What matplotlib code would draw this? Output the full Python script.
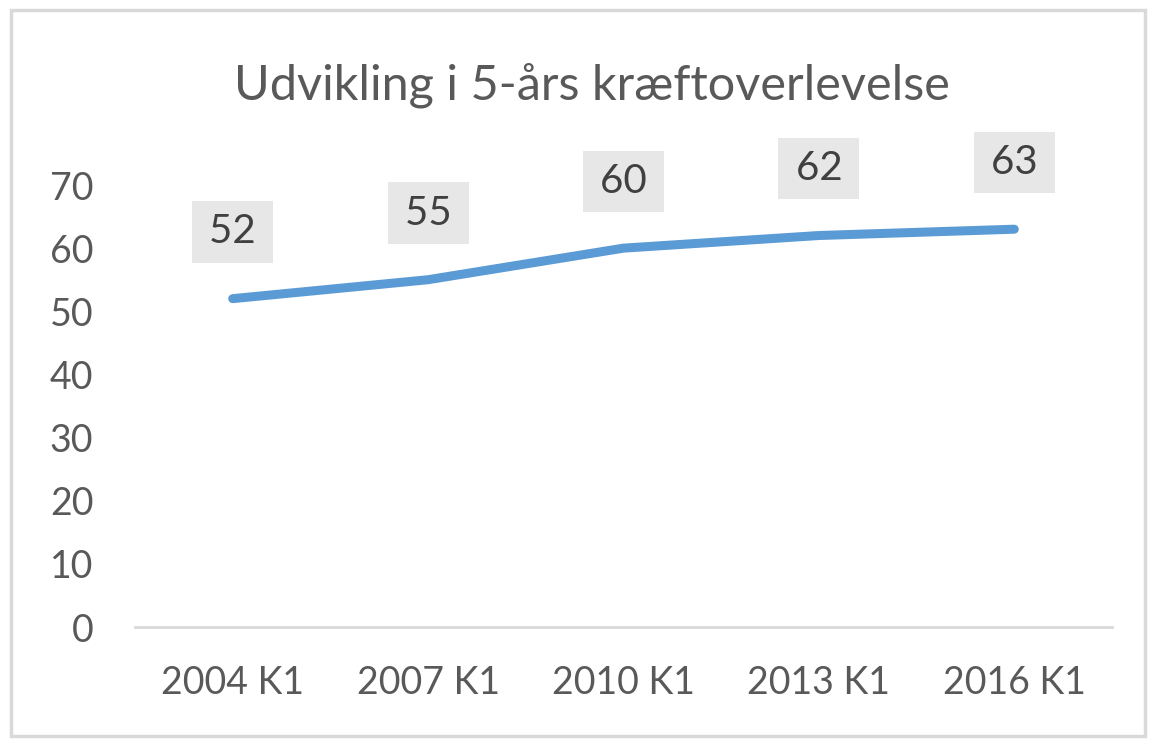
import matplotlib
matplotlib.use("Agg")
import matplotlib.pyplot as plt
from matplotlib.patches import Rectangle

# data
categories = ["2004 K1", "2007 K1", "2010 K1", "2013 K1", "2016 K1"]
survival = [52, 55, 60, 62, 63]
y_ticks = [0, 10, 20, 30, 40, 50, 60, 70]

title = "Udvikling i 5-års kræftoverlevelse"
text_color = "#595959"
line_color = "#5b9bd5"

plt.rcParams["font.family"] = ["Lato", "DejaVu Sans"]

fig = plt.figure(figsize=(11.55, 7.4), dpi=100)
W, H = 1155, 740

# chart border
fig.patches.append(Rectangle((11 / W, 1 - 736 / H), (1145 - 11) / W, (736 - 10) / H,
                             transform=fig.transFigure, fill=False,
                             edgecolor="#d9d9d9", linewidth=2.5))

ax = fig.add_axes([135 / W, 1 - 627 / H, (1112 - 135) / W, (627 - 185) / H])

x = list(range(len(categories)))
ax.plot(x, survival, color=line_color, linewidth=6.5, solid_capstyle="round",
        solid_joinstyle="round")

for xi, v in zip(x, survival):
    ax.annotate("\u2009%d\u2009" % v, (xi, v), xytext=(0, 48), textcoords="offset points",
                ha="center", va="center", fontsize=29, color="#404040",
                bbox=dict(boxstyle="square,pad=0.3", facecolor="#e7e7e7",
                          edgecolor="none"))

ax.set_xlim(-0.5, len(categories) - 0.5)
ax.set_ylim(0, 70)
ax.set_xticks(x)
ax.set_xticklabels(categories)
ax.set_yticks(y_ticks)
ax.tick_params(axis="both", length=0, labelsize=27, colors=text_color)
ax.tick_params(axis="y", pad=30)
ax.tick_params(axis="x", pad=27)

for side in ["top", "right", "left"]:
    ax.spines[side].set_visible(False)
ax.spines["bottom"].set_color("#d9d9d9")
ax.spines["bottom"].set_linewidth(2)

fig.text(592 / W, 1 - 85 / H, title, ha="center", va="center",
         fontsize=35, color=text_color)

fig.savefig("out.png", dpi=100)
plt.close(fig)
